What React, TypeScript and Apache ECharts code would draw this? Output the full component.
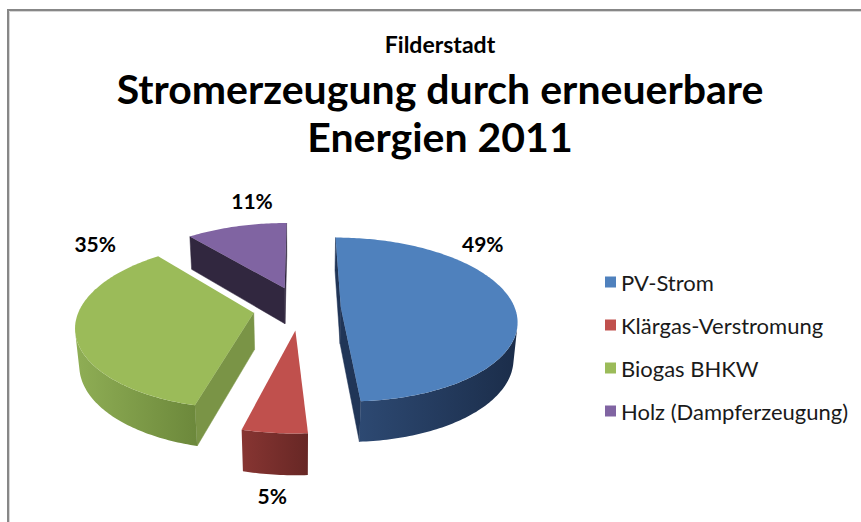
import React, { useEffect, useRef } from "react";
import * as echarts from "echarts";

// ---- data ----
const categories = ["PV-Strom", "Klärgas-Verstromung", "Biogas BHKW", "Holz (Dampferzeugung)"];
const shares = [49, 5, 35, 11];
const subTitle = "Filderstadt";
const titleLines = ["Stromerzeugung durch erneuerbare", "Energien 2011"];

// ---- styles ----
const topColors = ["#4F81BD", "#C0504D", "#9BBB59", "#8064A2"];
const wallLight = ["#2D4972", "#873532", "#8FAE55", "#4A3A5E"];
const wallDark = ["#1B2D4A", "#672725", "#6C883B", "#2E2439"];
const radialColors = ["#203557", "#6E2A28", "#7A9446", "#31273F"];
const explodeBySlice = [0.235, 0.27, 0.27, 0.27];
// label anchor (angle in degrees clockwise from back, radius relative to pie radius)
const labelPlacement = [
  [52.4, 1.506],
  [183.9, 1.742],
  [304.5, 1.622],
  [348.4, 1.711],
];

const VIEW = {
  cx: 300,
  cy: 308,
  f: 174,
  D: 6,
  alpha: (27.5 * Math.PI) / 180,
  H: 0.24,
};

const sinA = Math.sin(VIEW.alpha);
const cosA = Math.cos(VIEW.alpha);
const CAM = [0, VIEW.D * sinA, -VIEW.D * cosA];

function depthOf(X: number, Y: number, Z: number) {
  return VIEW.D - Y * sinA + Z * cosA;
}
function proj(X: number, Y: number, Z: number): number[] {
  const s = VIEW.D / depthOf(X, Y, Z);
  return [VIEW.cx + VIEW.f * X * s, VIEW.cy - VIEW.f * (Y * cosA + Z * sinA) * s];
}

const total = shares.reduce((a, b) => a + b, 0);
const cumStart: number[] = [];
{
  let acc = 0;
  for (let i = 0; i < shares.length; i++) {
    cumStart.push(acc / total);
    acc += shares[i];
  }
}

function makeRenderItem(idx: number) {
  return (params: any, api: any) => {
    const share = api.value(0);
    const s0 = api.value(1);
    const s1 = api.value(2);
    const a0 = s0 * 2 * Math.PI;
    const a1 = s1 * 2 * Math.PI;
    const mid = (a0 + a1) / 2;
    const E = explodeBySlice[idx];
    const ex = E * Math.sin(mid);
    const ez = E * Math.cos(mid);
    const H = VIEW.H;
    const n = Math.max(2, Math.ceil((a1 - a0) / (Math.PI / 180)));
    const thetas: number[] = [];
    for (let k = 0; k <= n; k++) thetas.push(a0 + ((a1 - a0) * k) / n);

    const children: any[] = [];
    const visible = (nx: number, nz: number, px: number, py: number, pz: number) =>
      nx * (CAM[0] - px) + nz * (CAM[2] - pz) > 0;

    // radial walls
    const walls = [
      { a: a0, nx: -Math.cos(a0), nz: Math.sin(a0) },
      { a: a1, nx: Math.cos(a1), nz: -Math.sin(a1) },
    ];
    for (const w of walls) {
      const ox = ex + Math.sin(w.a);
      const oz = ez + Math.cos(w.a);
      const px = (ex + ox) / 2;
      const pz = (ez + oz) / 2;
      if (!visible(w.nx, w.nz, px, -H / 2, pz)) continue;
      const pts = [proj(ex, 0, ez), proj(ox, 0, oz), proj(ox, -H, oz), proj(ex, -H, ez)];
      const d = depthOf(px, -H / 2, pz);
      children.push({
        type: "polygon",
        shape: { points: pts },
        style: { fill: radialColors[idx], stroke: radialColors[idx], lineWidth: 0.5 },
        z2: Math.round(100 - d * 10),
      });
    }

    // outer wall visible runs
    let run: number[] | null = null;
    const runs: number[][] = [];
    for (let k = 0; k < n; k++) {
      const t = (thetas[k] + thetas[k + 1]) / 2;
      const nx = Math.sin(t);
      const nz = Math.cos(t);
      const vis = visible(nx, nz, ex + nx, -H / 2, ez + nz);
      if (vis) {
        if (!run) run = [k, k + 1];
        else run[1] = k + 1;
      } else if (run) {
        runs.push(run);
        run = null;
      }
    }
    if (run) runs.push(run);
    for (const r of runs) {
      const topPts: number[][] = [];
      const botPts: number[][] = [];
      for (let k = r[0]; k <= r[1]; k++) {
        const X = ex + Math.sin(thetas[k]);
        const Z = ez + Math.cos(thetas[k]);
        topPts.push(proj(X, 0, Z));
        botPts.push(proj(X, -H, Z));
      }
      const tm = (thetas[r[0]] + thetas[r[1]]) / 2;
      const d = depthOf(ex + Math.sin(tm), -H / 2, ez + Math.cos(tm));
      children.push({
        type: "polygon",
        shape: { points: topPts.concat(botPts.reverse()) },
        style: {
          fill: {
            type: "linear",
            x: 0,
            y: 0,
            x2: 1,
            y2: 0,
            colorStops: [
              { offset: 0, color: wallLight[idx] },
              { offset: 1, color: wallDark[idx] },
            ],
          },
        },
        z2: Math.round(100 - d * 10),
      });
    }

    // top face
    const top: number[][] = [proj(ex, 0, ez)];
    for (const t of thetas) top.push(proj(ex + Math.sin(t), 0, ez + Math.cos(t)));
    children.push({
      type: "polygon",
      shape: { points: top },
      style: { fill: topColors[idx] },
      z2: 200,
    });

    // label
    const [la, lr] = labelPlacement[idx];
    const lrad = (la * Math.PI) / 180;
    const lp = proj(lr * Math.sin(lrad), 0, lr * Math.cos(lrad));
    children.push({
      type: "text",
      x: lp[0],
      y: lp[1],
      style: {
        text: `${Math.round((share / total) * 100)}%`,
        fill: "#000000",
        font: "bold 21px Lato",
        textAlign: "center",
        textVerticalAlign: "middle",
        align: "center",
        verticalAlign: "middle",
      },
      z2: 300,
    });

    return { type: "group", children };
  };
}

export default function App() {
  const ref = useRef<HTMLDivElement>(null);
  useEffect(() => {
    if (!ref.current) return;
    const chart = echarts.init(ref.current, undefined, { renderer: "svg" });
    const series = categories.map((name, i) => ({
      type: "custom",
      name,
      coordinateSystem: "none",
      silent: true,
      itemStyle: { color: topColors[i] },
      data: [[shares[i], cumStart[i], cumStart[i] + shares[i] / total]],
      renderItem: makeRenderItem(i),
    }));
    chart.setOption({
      animation: false,
      color: topColors,
      legend: {
        orient: "vertical",
        left: 600,
        top: 265,
        icon: "rect",
        itemWidth: 11,
        itemHeight: 11,
        itemGap: 19,
        selectedMode: false,
        data: categories,
        textStyle: {
          fontFamily: "Lato",
          fontSize: 22,
          lineHeight: 24,
          color: "#1a1a1a",
        },
      },
      graphic: [
        { type: "line", shape: { x1: 8, y1: 10, x2: 861, y2: 10 }, style: { stroke: "#878787", lineWidth: 2 } },
        { type: "line", shape: { x1: 8, y1: 9, x2: 8, y2: 522 }, style: { stroke: "#878787", lineWidth: 2 } },
        { type: "line", shape: { x1: 9.5, y1: 11.5, x2: 861, y2: 11.5 }, style: { stroke: "#d6d6d6", lineWidth: 1 } },
        { type: "line", shape: { x1: 9.5, y1: 11.5, x2: 9.5, y2: 522 }, style: { stroke: "#d6d6d6", lineWidth: 1 } },
        {
          type: "text",
          x: 440,
          y: 44,
          style: {
            text: subTitle,
            font: "bold 23px Lato",
            fill: "#000",
            textAlign: "center",
            textVerticalAlign: "middle",
            align: "center",
            verticalAlign: "middle",
          },
        },
        {
          type: "text",
          x: 440,
          y: 88,
          style: {
            text: titleLines[0],
            font: "bold 41px Lato",
            fill: "#000",
            textAlign: "center",
            textVerticalAlign: "middle",
            align: "center",
            verticalAlign: "middle",
          },
        },
        {
          type: "text",
          x: 440,
          y: 136,
          style: {
            text: titleLines[1],
            font: "bold 41px Lato",
            fill: "#000",
            textAlign: "center",
            textVerticalAlign: "middle",
            align: "center",
            verticalAlign: "middle",
          },
        },
      ],
      series,
    });
    return () => chart.dispose();
  }, []);
  return (
    <div
      ref={ref}
      style={{ position: "absolute", left: 0, top: 0, width: 861, height: 522, background: "#fff" }}
    />
  );
}
